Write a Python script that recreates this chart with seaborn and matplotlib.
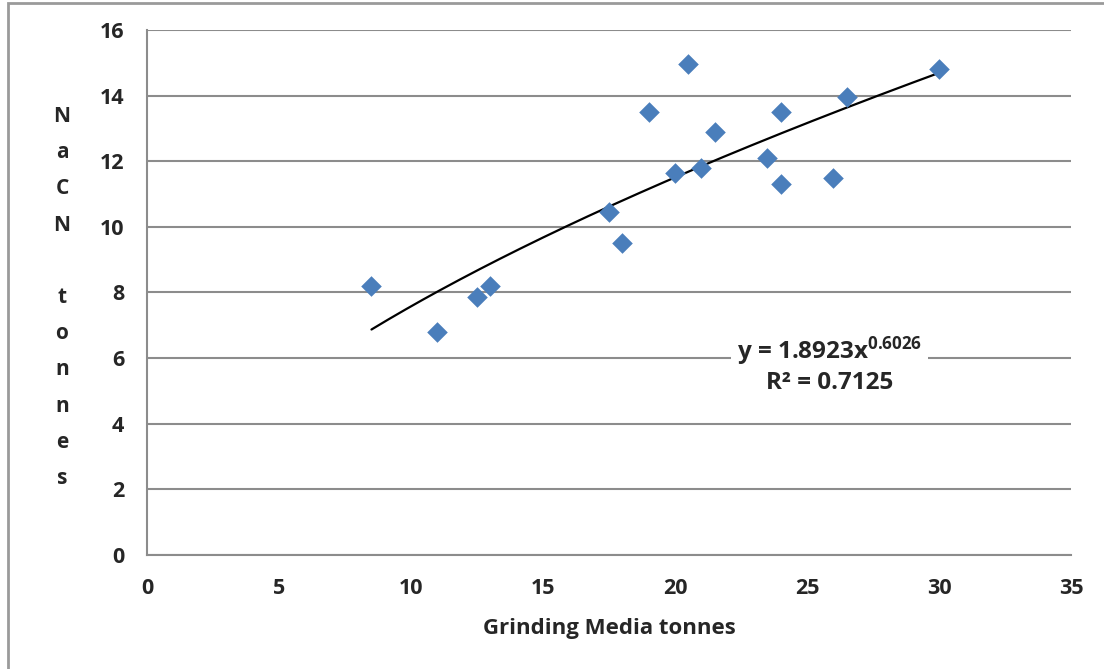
#!/usr/bin/env python3
# Scatter of NaCN vs grinding media with power trendline

import numpy as np
import pandas as pd
import matplotlib.pyplot as plt
import seaborn as sns
from matplotlib.patches import Rectangle

# ============================================================================
# DATA
# ============================================================================
grinding_media = [8.5, 11, 12.5, 13, 17.5, 18, 19, 20, 20.5, 21, 21.5,
                  23.5, 24, 24, 26, 26.5, 30]
nacn = [8.2, 6.8, 7.85, 8.2, 10.45, 9.5, 13.5, 11.65, 14.95, 11.8, 12.9,
        12.1, 13.5, 11.3, 11.5, 13.95, 14.8]

# power trendline as printed on the chart
trend_a = 1.8923
trend_b = 0.6026
trend_r2 = 0.7125

x_ticks = [0, 5, 10, 15, 20, 25, 30, 35]
y_ticks = [0, 2, 4, 6, 8, 10, 12, 14, 16]

df = pd.DataFrame({"media": grinding_media, "nacn": nacn})

# ============================================================================
# THEME SETTINGS
# ============================================================================
sns.set_theme(style="white")
plt.rcParams['font.family'] = ['Open Sans', 'DejaVu Sans']
plt.rcParams['font.weight'] = 'bold'
plt.rcParams['mathtext.fontset'] = 'custom'
plt.rcParams['mathtext.rm'] = 'Open Sans:bold'
plt.rcParams['mathtext.default'] = 'rm'

grid_gray = '#8c8c8c'
marker_blue = '#4a7ebb'

# ============================================================================
# CREATE PLOT
# ============================================================================
fig = plt.figure(figsize=(11.04, 6.69), dpi=100)
ax = fig.add_axes([0.1332, 0.1704, 0.837, 0.7848])

# outer chart border
fig.patches.append(Rectangle((8 / 1104, -0.01), 1.2, 1 - 3 / 669 + 0.01,
                             transform=fig.transFigure, fill=False,
                             edgecolor='#9a9a9a', linewidth=2))

sns.scatterplot(data=df, x="media", y="nacn", marker="D", s=110,
                color=marker_blue, edgecolor=marker_blue, linewidth=0,
                ax=ax, zorder=3)

xs = np.linspace(min(grinding_media), max(grinding_media), 200)
ax.plot(xs, trend_a * xs ** trend_b, color='black', linewidth=1.6, zorder=2)

ax.set_xlim(0, 35)
ax.set_ylim(0, 16)
ax.set_xticks(x_ticks)
ax.set_yticks(y_ticks)
ax.tick_params(axis='both', labelsize=15.5, length=5.5, width=1.5,
               color=grid_gray, direction='out', pad=11)
for lab in ax.get_xticklabels() + ax.get_yticklabels():
    lab.set_fontweight('bold')

ax.yaxis.grid(True, color=grid_gray, linewidth=1.5)
ax.xaxis.grid(False)
ax.set_axisbelow(True)

for side in ['top', 'right']:
    ax.spines[side].set_visible(False)
for side in ['left', 'bottom']:
    ax.spines[side].set_color(grid_gray)
    ax.spines[side].set_linewidth(1.5)

ax.set_xlabel("Grinding Media tonnes", fontsize=16, fontweight='bold',
              labelpad=14)
ax.set_ylabel("")
fig.text(62 / 1104, 1 - 297.5 / 669, "N\na\nC\nN\n\nt\no\nn\nn\ne\ns",
         ha='center', va='center', fontsize=15, fontweight='bold',
         linespacing=1.95)

ax.text(25.85, 5.8,
        f"y = {trend_a}x$^{{{trend_b}}}$\nR² = {trend_r2}",
        ha='center', va='center', fontsize=17.5, fontweight='bold',
        linespacing=1.15, zorder=4,
        bbox=dict(facecolor='white', edgecolor='none', pad=4))

# ============================================================================
# SAVE OUTPUT
# ============================================================================
plt.savefig("out.png", dpi=100)
print("Plot saved to: out.png")
plt.close()
